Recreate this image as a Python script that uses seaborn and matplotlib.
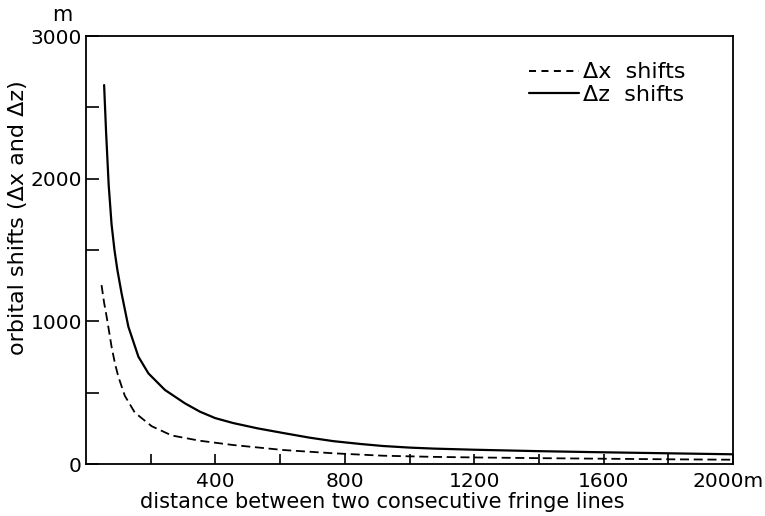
import matplotlib
matplotlib.use("Agg")
import matplotlib.pyplot as plt
import seaborn as sns
import pandas as pd
from matplotlib.lines import Line2D

# ---- data ----
dz_distance = [56, 62, 70, 79, 88, 97, 110, 131, 162, 193, 244, 306, 352, 399, 455,
               530, 610, 690, 765, 850, 919, 1000, 1074, 1200, 1400, 1600, 1800, 2000]
dz_shift = [2656, 2330, 1960, 1680, 1500, 1360, 1196, 962, 752, 635, 519, 425, 367, 322, 287,
            250, 217, 185, 160, 140, 126, 115, 108, 100, 90, 82, 75, 68]

dx_distance = [48, 56, 64, 72, 79, 90, 100, 120, 151, 203, 265, 352, 455, 610, 765,
               919, 1074, 1200, 1400, 1600, 1800, 2000]
dx_shift = [1254, 1130, 1030, 920, 822, 700, 612, 478, 360, 265, 200, 163, 133, 98, 75,
            58, 50, 46, 41, 37, 33, 30]

x_major = [400, 800, 1200, 1600, 2000]
x_major_labels = ["400", "800", "1200", "1600", ""]
x_last_label = "2000m"
x_minor = [200, 600, 1000, 1400, 1800]
y_major = [0, 1000, 2000, 3000]
y_major_labels = ["0", "1000", "2000", "3000"]
y_minor = [500, 1500, 2500]
series_labels = ["\u0394x  shifts", "\u0394z  shifts"]

sns.set_theme(style="ticks")
plt.rcParams["font.family"] = ["DejaVu Sans"]
plt.rcParams["text.color"] = "black"
plt.rcParams["axes.labelcolor"] = "black"
plt.rcParams["xtick.color"] = "black"
plt.rcParams["ytick.color"] = "black"

fig = plt.figure(figsize=(7.65, 5.16), dpi=100)
ax = fig.add_axes([86 / 765, 1 - 464 / 516, (733 - 86) / 765, (464 - 36) / 516])

df_z = pd.DataFrame({"d": dz_distance, "s": dz_shift})
df_x = pd.DataFrame({"d": dx_distance, "s": dx_shift})

sns.lineplot(data=df_z, x="d", y="s", ax=ax, color="black", linewidth=1.6,
             estimator=None, sort=False)
sns.lineplot(data=df_x, x="d", y="s", ax=ax, color="black", linewidth=1.3,
             linestyle=(0, (5, 2.6)), estimator=None, sort=False)

ax.set_xlim(0, 2000)
ax.set_ylim(0, 3000)

ax.set_xticks(x_major)
ax.set_xticklabels(x_major_labels)
ax.set_xticks(x_minor, minor=True)
ax.set_yticks(y_major)
ax.set_yticklabels(y_major_labels)
ax.set_yticks(y_minor, minor=True)

ax.tick_params(axis="x", which="both", direction="in", length=7.2, width=1.2,
               labelsize=14.5, pad=6, colors="black")
ax.tick_params(axis="y", which="both", direction="in", length=9.4, width=1.2,
               labelsize=14.5, pad=3, colors="black")
for sp in ax.spines.values():
    sp.set_visible(True)
    sp.set_linewidth(1.3)
    sp.set_color("black")

# last x tick label (with unit), nudged left so it stays inside the figure
ax.annotate(x_last_label, xy=(x_major[-1], 0), xycoords=("data", "axes fraction"),
            xytext=(-3.5, -6), textcoords="offset points", ha="center", va="top",
            fontsize=14.5, color="black")

ax.set_xlabel("distance between two consecutive fringe lines", fontsize=15, labelpad=0,
              color="black")
ax.xaxis.set_label_coords(0.4575, -0.065)
ax.set_ylabel("orbital shifts (\u0394x and \u0394z)", fontsize=16, labelpad=4, color="black")
ax.yaxis.set_label_coords(-0.0896, 0.575)

ax.text(-0.036, 1.049, "m", transform=ax.transAxes, ha="center", va="center", fontsize=15,
        color="black")

handles = [Line2D([], [], color="black", linewidth=1.4, linestyle=(0, (3.6, 2.8))),
           Line2D([], [], color="black", linewidth=1.6)]
leg = ax.legend(handles, series_labels, frameon=False, loc="upper right",
                bbox_to_anchor=(0.958, 0.985), fontsize=16, handlelength=2.25,
                handletextpad=0.2, labelspacing=0.12)
for t in leg.get_texts():
    t.set_color("black")

fig.savefig("out.png", dpi=100)
